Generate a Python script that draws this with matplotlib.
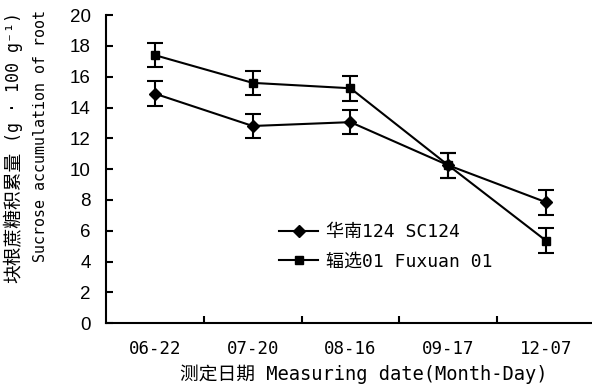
import matplotlib
matplotlib.use("Agg")
import matplotlib.pyplot as plt
from matplotlib.lines import Line2D
import numpy as np

dates = ["06-22", "07-20", "08-16", "09-17", "12-07"]
sc124 = [14.9, 12.8, 13.05, 10.25, 7.85]
sc124_err = [0.8, 0.8, 0.8, 0.8, 0.8]
fuxuan = [17.4, 15.6, 15.25, 10.25, 5.35]
fuxuan_err = [0.8, 0.8, 0.8, 0.8, 0.8]
labels = ["华南124 SC124", "辐选01 Fuxuan 01"]

MONO = ["DejaVu Sans Mono", "Noto Sans CJK SC"]

fig = plt.figure(figsize=(5.92, 3.87), dpi=100)
ax = fig.add_axes([0.179, 0.165, 0.826, 0.796])

x = np.arange(len(dates))
ax.errorbar(x, sc124, yerr=sc124_err, color="black", lw=1.5, marker="D",
            ms=6.5, capsize=5.5, capthick=1.5, elinewidth=1.5)
ax.errorbar(x, fuxuan, yerr=fuxuan_err, color="black", lw=1.5, marker="s",
            ms=6, capsize=5.5, capthick=1.5, elinewidth=1.5)

ax.set_xlim(-0.5, len(dates) - 0.5)
ax.set_ylim(0, 20)
ax.set_yticks(np.arange(0, 21, 2))
ax.set_xticks(x)
ax.set_xticklabels(dates, family=MONO, fontsize=12.5)
ax.set_xticks(np.arange(0.5, len(dates) - 1, 1), minor=True)
ax.tick_params(axis="x", which="major", length=0, pad=12)
ax.tick_params(axis="x", which="minor", length=5, width=1.5, direction="in")
ax.tick_params(axis="y", length=5, width=1.5, direction="in", labelsize=13.5,
               pad=11)
for lab in ax.get_yticklabels():
    lab.set_family("Liberation Sans")

for s in ("top", "right"):
    ax.spines[s].set_visible(False)
for s in ("left", "bottom"):
    ax.spines[s].set_linewidth(1.5)

ax.set_xlabel("测定日期 Measuring date(Month-Day)", family=MONO,
              fontsize=13.5, labelpad=6)
ax.xaxis.set_label_coords(0.527, -0.135)
# y label drawn as separate texts: CJK part, unit, english line
fig.text(14 / 592, 1 - 283 / 387, "块根蔗糖积累量", family=MONO,
         fontsize=13.5, rotation=90, ha="center", va="bottom")
fig.text(14 / 592, 1 - 142 / 387, "(g · 100 g⁻¹)", family=MONO,
         fontsize=12, rotation=90, ha="center", va="bottom")
fig.text(41 / 592, 1 - 136 / 387, "Sucrose accumulation of root", family=MONO,
         fontsize=10.8, rotation=90, ha="center", va="center")

handles = [Line2D([], [], color="black", lw=1.5, marker="D", ms=6.5),
           Line2D([], [], color="black", lw=1.5, marker="s", ms=6)]
ax.legend(handles, labels, loc="upper left", bbox_to_anchor=(0.32, 0.378),
          frameon=False, prop={"family": MONO, "size": 13}, handlelength=2.2,
          handletextpad=0.4, labelspacing=0.65)

fig.savefig("out.png", dpi=100)
